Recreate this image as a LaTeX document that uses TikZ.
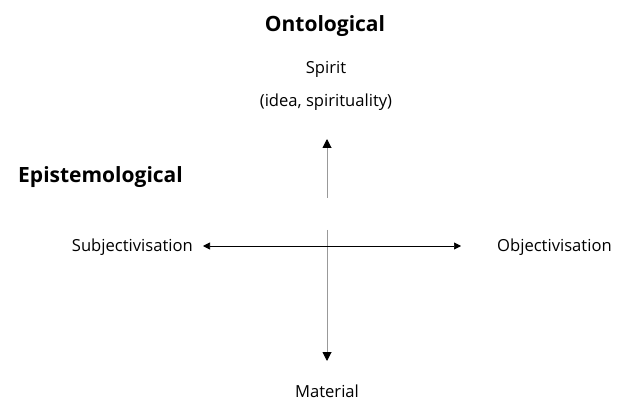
\documentclass[tikz,border=0pt]{standalone}
\usepackage{fontspec}
\setmainfont{Open Sans}
\usetikzlibrary{arrows.meta}
\begin{document}
\begin{tikzpicture}[x=1pt,y=-1pt,
  lbl/.style={inner sep=0pt,anchor=base,font=\fontsize{16.6}{20}\selectfont},
  head/.style={inner sep=0pt,anchor=base,font=\fontsize{21}{25}\selectfont\bfseries},
  axis/.style={draw=black,line width=0.7pt,-{Triangle[length=7pt,width=7pt]}},
  vaxis/.style={draw=gray!80,line width=1pt,arrows={-{Triangle[length=9pt,width=9pt,color=black]}}}]
\useasboundingbox (0,0) rectangle (618,403);
\node[head] (onto) at (325,32) {Ontological};
\node[lbl] (spirit) at (326,74) {Spirit};
\node[lbl] (idea) at (326,107) {(idea, spirituality)};
\node[head,anchor=base west] (epi) at (18,183) {Epistemological};
\node[lbl,anchor=base east] (subj) at (193,252) {Subjectivisation};
\node[lbl,anchor=base west] (obj) at (497,252) {Objectivisation};
\node[lbl] (mat) at (327,397) {Material};
\coordinate (c) at (327,246);
\coordinate (up0) at (327,198);
\coordinate (up1) at (327,139);
\coordinate (dn0) at (327,230);
\coordinate (dn1) at (327,361);
\coordinate (l) at (203,246);
\coordinate (r) at (461,246);
\draw[vaxis] (up0) -- (up1);
\draw[vaxis] (dn0) -- (dn1);
\draw[axis] (c) -- (l);
\draw[axis] (c) -- (r);
\end{tikzpicture}
\end{document}
